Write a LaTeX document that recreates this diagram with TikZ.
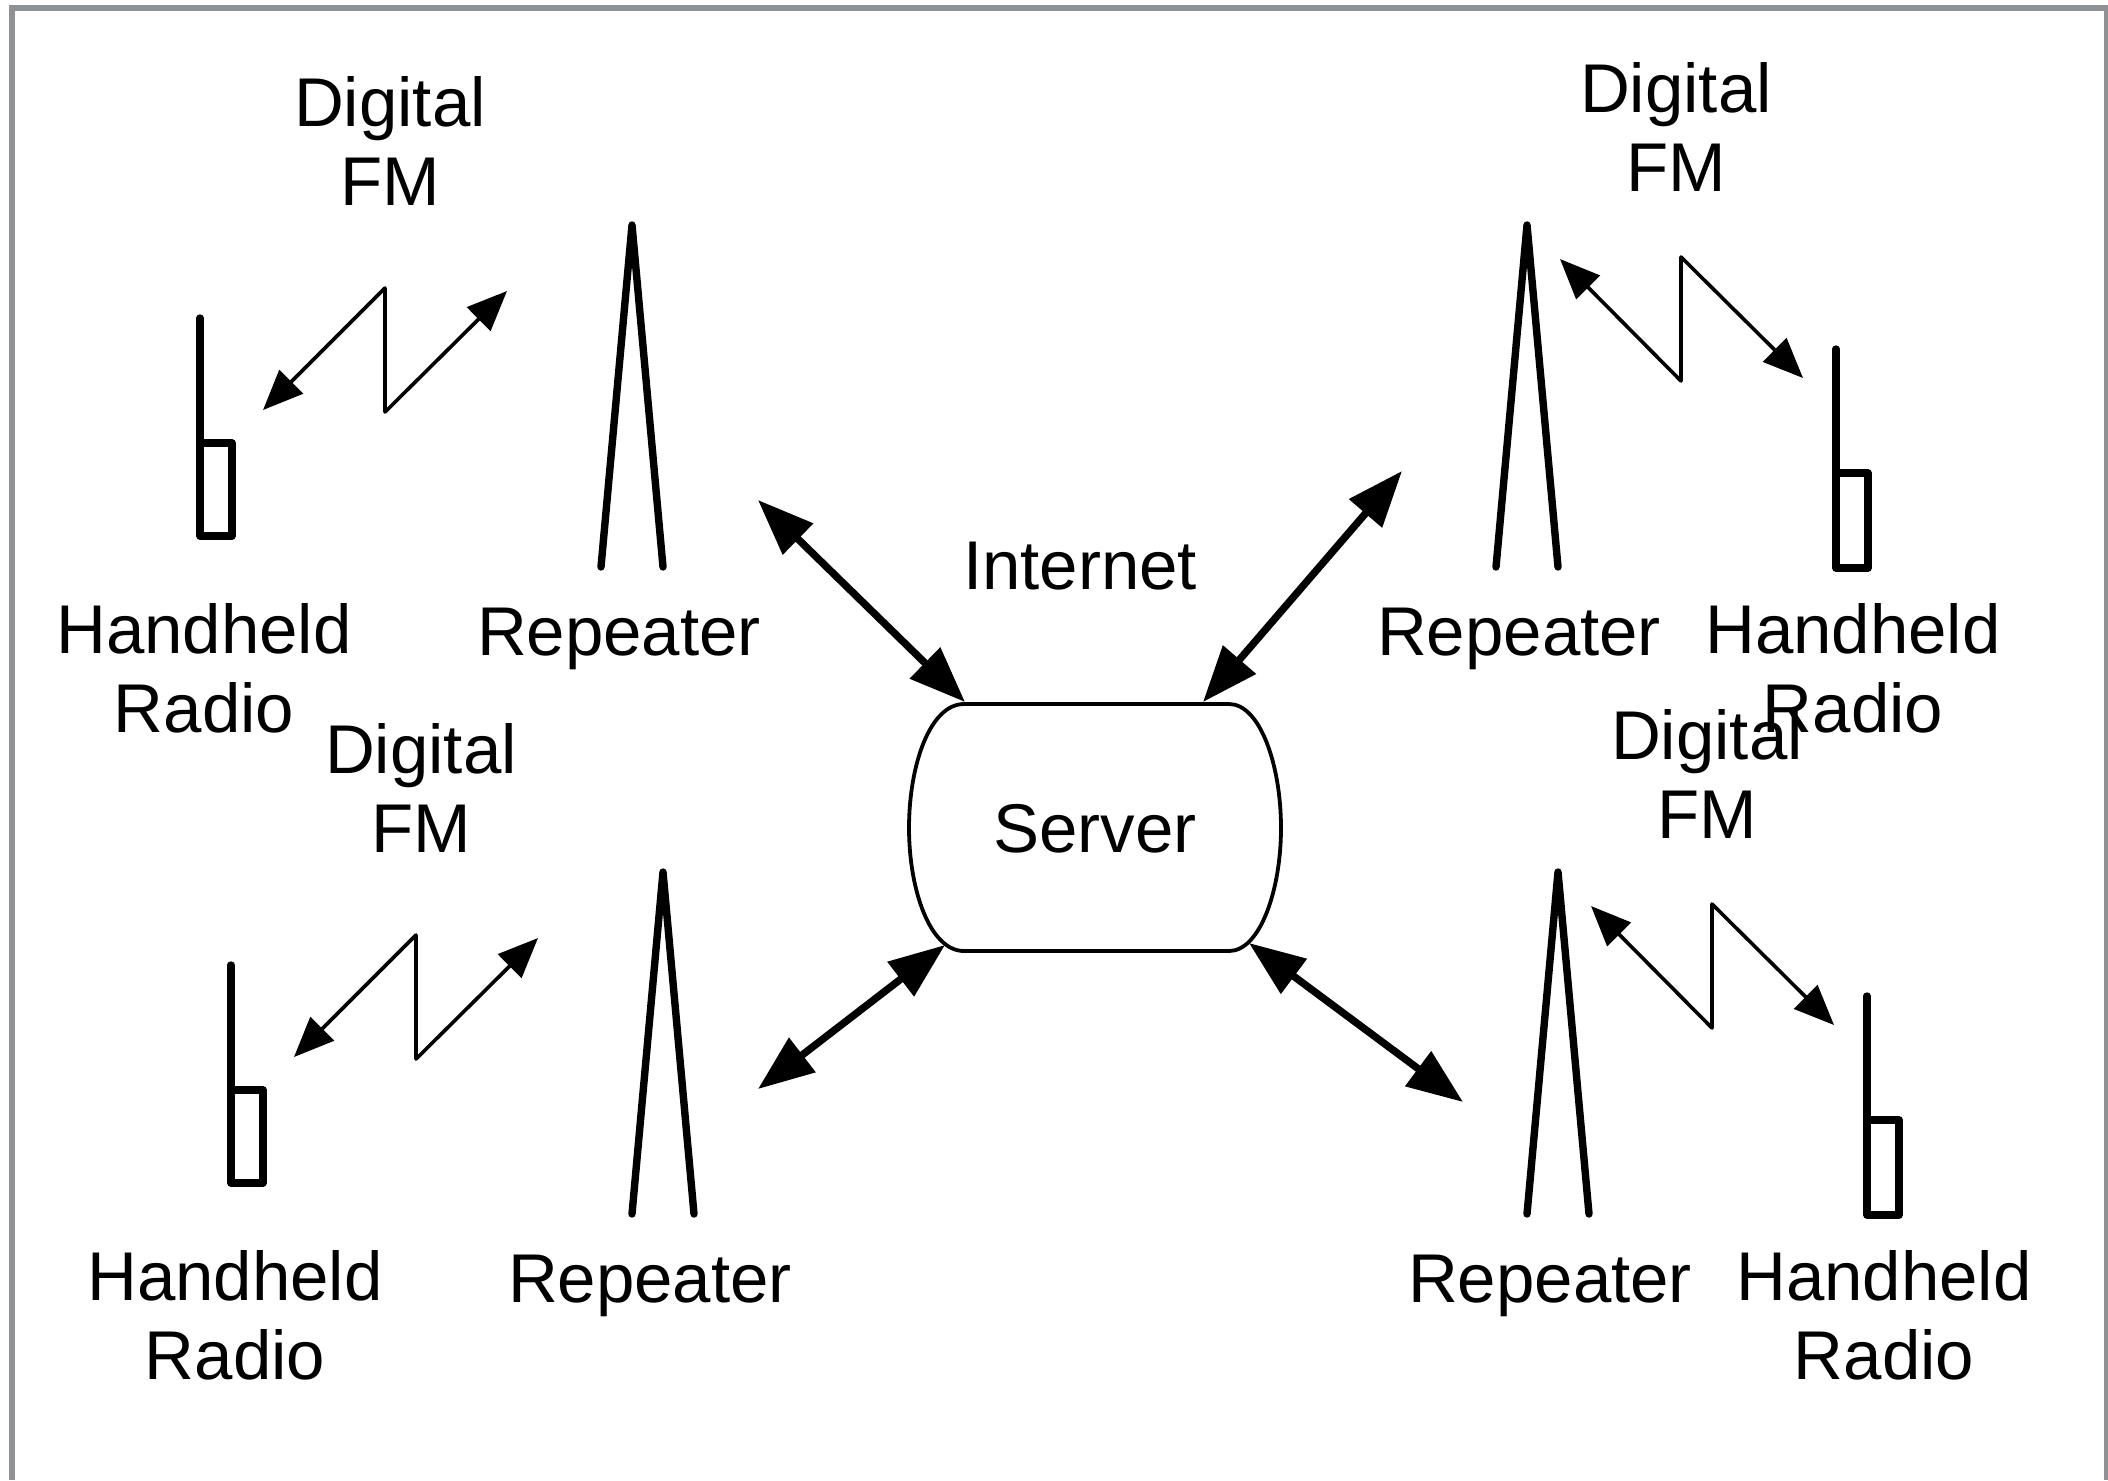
\documentclass[tikz,border=0pt]{standalone}
\usepackage{fontspec}
\setmainfont{Liberation Sans}
\usetikzlibrary{arrows.meta}
\definecolor{framegray}{RGB}{142,145,150}
\tikzset{
	lbl/.style={align=center, inner sep=0pt, font=\fontsize{34.5}{39.5}\selectfont},
	mast/.style={line width=3.7pt, line cap=round, line join=round},
	radiobox/.style={draw, rectangle, line width=3.7pt, line join=round, inner sep=0pt, outer sep=0pt, minimum width=16pt},
	wave/.style={line width=1.8pt, line join=round, <->, >={Triangle[length=20pt, width=16.5pt]}},
	link/.style={line width=3.7pt, <->, >={Triangle[length=28pt, width=21pt]}},
}

\begin{document}
\begin{tikzpicture}[x=0.5pt, y=-0.5pt]
	\useasboundingbox (0,0) rectangle (2108,1480);
	\fill[white] (0,0) rectangle (2108,1480);
	\coordinate (fa) at (12,1480);
	\coordinate (fb) at (12,8);
	\coordinate (fc) at (2107,8);
	\coordinate (fd) at (2107,1480);
	\draw[framegray, line width=2.8pt] (fa) -- (fb) -- (fc) -- (fd);

	% server
	\node (server) [lbl] at (1095,829) {Server};
	\node (inet) [lbl] at (1080,566) {Internet};
	\coordinate (stl) at (964,704);
	\coordinate (str) at (1229,704);
	\coordinate (sbr) at (1229,951);
	\coordinate (sbl) at (964,951);
	\draw[line width=1.9pt] (stl) -- (str) .. controls (1260,704) and (1281,765) .. (1281,828)
		.. controls (1281,890) and (1260,951) .. (sbr) -- (sbl)
		.. controls (930,951) and (909,890) .. (909,828) .. controls (909,765) and (930,704) .. (stl) -- cycle;

	% upper left
	\begin{scope}
		\node (dig1) [lbl] at (390,141) {Digital\\FM};
		\node (rad1) [radiobox, minimum height=46.5pt] at (216,489.5) {};
		\coordinate (ant1) at (200,318);
		\draw[mast] (ant1) -- (rad1.north west);
		\node (hand1) [lbl] at (204,668) {Handheld\\Radio};
		\coordinate (apex1) at (632,225);
		\coordinate (foota1) at (601,567);
		\coordinate (footb1) at (663,567);
		\draw[mast] (foota1) -- (apex1) -- (footb1);
		\node (rep1) [lbl] at (619,639) {Repeater};
		\coordinate (ta1) at (263,410);
		\coordinate (za1) at (385,288);
		\coordinate (zb1) at (385,412);
		\coordinate (tb1) at (507,291);
		\draw[wave] (ta1) -- (za1) -- (zb1) -- (tb1);
	\end{scope}

	% lower left
	\begin{scope}[shift={(31,647)}]
		\node (dig2) [lbl] at (390,141) {Digital\\FM};
		\node (rad2) [radiobox, minimum height=46.5pt] at (216,489.5) {};
		\coordinate (ant2) at (200,318);
		\draw[mast] (ant2) -- (rad2.north west);
		\node (hand2) [lbl] at (204,668) {Handheld\\Radio};
		\coordinate (apex2) at (632,225);
		\coordinate (foota2) at (601,567);
		\coordinate (footb2) at (663,567);
		\draw[mast] (foota2) -- (apex2) -- (footb2);
		\node (rep2) [lbl] at (619,639) {Repeater};
		\coordinate (ta2) at (263,410);
		\coordinate (za2) at (385,288);
		\coordinate (zb2) at (385,412);
		\coordinate (tb2) at (507,291);
		\draw[wave] (ta2) -- (za2) -- (zb2) -- (tb2);
	\end{scope}

	% upper right
	\begin{scope}
		\node (dig3) [lbl] at (1676,127) {Digital\\FM};
		\node (rad3) [radiobox, minimum height=47.5pt] at (1852,520.5) {};
		\coordinate (ant3) at (1836,349);
		\draw[mast] (ant3) -- (rad3.north west);
		\node (hand3) [lbl] at (1853,668) {Handheld\\Radio};
		\coordinate (apex3) at (1527,225);
		\coordinate (foota3) at (1496,567);
		\coordinate (footb3) at (1558,567);
		\draw[mast] (foota3) -- (apex3) -- (footb3);
		\node (rep3) [lbl] at (1519,639) {Repeater};
		\coordinate (ta3) at (1560,259);
		\coordinate (za3) at (1681,381);
		\coordinate (zb3) at (1681,257);
		\coordinate (tb3) at (1803,378);
		\draw[wave] (ta3) -- (za3) -- (zb3) -- (tb3);
	\end{scope}

	% lower right
	\begin{scope}[shift={(31,647)}]
		\node (dig4) [lbl] at (1676,127) {Digital\\FM};
		\node (rad4) [radiobox, minimum height=47.5pt] at (1852,520.5) {};
		\coordinate (ant4) at (1836,349);
		\draw[mast] (ant4) -- (rad4.north west);
		\node (hand4) [lbl] at (1853,668) {Handheld\\Radio};
		\coordinate (apex4) at (1527,225);
		\coordinate (foota4) at (1496,567);
		\coordinate (footb4) at (1558,567);
		\draw[mast] (foota4) -- (apex4) -- (footb4);
		\node (rep4) [lbl] at (1519,639) {Repeater};
		\coordinate (ta4) at (1560,259);
		\coordinate (za4) at (1681,381);
		\coordinate (zb4) at (1681,257);
		\coordinate (tb4) at (1803,378);
		\draw[wave] (ta4) -- (za4) -- (zb4) -- (tb4);
	\end{scope}

	% links to the server
	\coordinate (la) at (758,500);
	\coordinate (lb) at (965,702);
	\coordinate (lc) at (1402,471);
	\coordinate (ld) at (1203,702);
	\coordinate (le) at (758,1089);
	\coordinate (lf) at (945,945);
	\coordinate (lg) at (1463,1102);
	\coordinate (lh) at (1249,943);
	\begin{scope}[link]
		\draw (la) -- (lb);
		\draw (lc) -- (ld);
		\draw (le) -- (lf);
		\draw (lg) -- (lh);
	\end{scope}
\end{tikzpicture}
\end{document}
